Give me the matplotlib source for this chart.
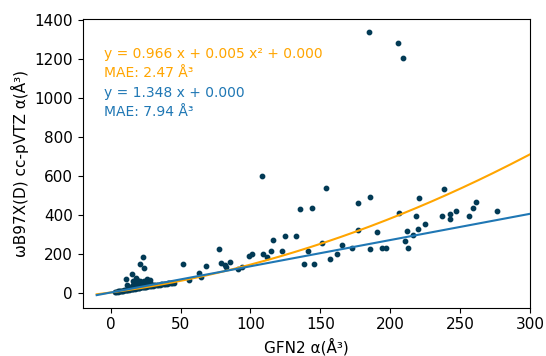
import numpy as np
import matplotlib.pyplot as plt

# GFN2 polarizabilities (x) and wB97X(D) reference (y)
gfn2 = [
    # dense cluster of small molecules
    3, 4, 5, 5.5, 6, 7, 7.5, 8, 9, 9.5, 10, 11, 11.5, 12, 13, 13.5, 14, 15,
    15.5, 16, 17, 17.5, 18, 18.5, 19, 20, 20.5, 21, 22, 22.5, 23, 24, 24.5,
    25, 26, 26.5, 27, 28, 29, 30, 31, 32, 33, 34, 35, 36, 37, 38, 39, 40,
    41, 42, 43, 44, 45,
    14, 16, 17, 18, 19, 20, 21, 22, 23, 24, 25, 26, 27, 28, 29,
    11.2, 15.4, 21, 23.4, 23.6, 18, 26, 12, 16,
    # larger systems
    51.5, 56, 63.2, 64.4, 68, 77.8, 79, 82.1, 82.3, 85.4, 91.1, 94.3,
    98.8, 101, 108.1, 109.3, 111.7, 114.8, 115.8, 122.4, 124.5, 132.9,
    135.8, 138.4, 141.3, 143.7, 145.8, 150.9, 154.2, 157.2, 161.6, 165.6,
    172.8, 177.1, 177.1, 184.5, 185.2, 185.7, 190.2, 194.2, 197.1, 205.3,
    206.4, 209.1, 210.7, 211.9, 212.6, 216.4, 218.1, 219.8, 220.5, 224.6,
    236.8, 238.2, 242.9, 242.9, 246.8, 256.3, 259.4, 261.1, 276.4,
]
wb97x = [
    3, 5, 5, 7, 6, 8, 9, 9, 10, 12, 11, 13, 14, 14, 15, 17, 16, 18,
    19, 19, 21, 20, 22, 23, 22, 24, 25, 26, 26, 28, 27, 29, 30,
    30, 31, 33, 32, 33, 35, 36, 37, 38, 39, 40, 41, 42, 43, 44, 45, 46,
    47, 48, 48, 49, 50,
    30, 40, 55, 45, 62, 50, 58, 44, 52, 60, 48, 66, 55, 62, 45,
    69, 97, 146, 185, 125, 75, 70, 40, 60,
    149, 63, 99, 80, 137, 225, 152, 142, 132, 156, 122, 130,
    188, 200, 600, 197, 182, 214, 270, 215, 289, 289,
    428, 149, 212, 434, 149, 255, 535, 173, 197, 242,
    228, 460, 322, 1340, 492, 226, 310, 228, 231, 1284,
    407, 1207, 265, 315, 231, 296, 395, 325, 487, 354,
    392, 530, 402, 376, 421, 393, 433, 467, 417,
]

# fit coefficients shown on the plot
quad_a, quad_b = 0.966, 0.00467
lin_a = 1.348

xfit = np.linspace(-10, 300, 200)

fig = plt.figure(figsize=(5.46, 3.56), dpi=100)
ax = fig.add_axes([0.1515, 0.1357, 0.8192, 0.8107])

ax.scatter(gfn2, wb97x, s=10, color='#023a55', zorder=3)
ax.plot(xfit, quad_a*xfit + quad_b*xfit**2, color='orange', lw=1.5, zorder=4)
ax.plot(xfit, lin_a*xfit, color='#1f77b4', lw=1.5, zorder=4)

ax.text(-5, 1224, 'y = 0.966 x + 0.005 x² + 0.000', color='orange', fontsize=10, va='center')
ax.text(-5, 1128, 'MAE: 2.47 Å³', color='orange', fontsize=10, va='center')
ax.text(-5, 1026, 'y = 1.348 x + 0.000', color='#1f77b4', fontsize=10, va='center')
ax.text(-5, 925, 'MAE: 7.94 Å³', color='#1f77b4', fontsize=10, va='center')

ax.set_xlim(-20, 300)
ax.set_ylim(-78, 1405)
ax.set_xticks([0, 50, 100, 150, 200, 250, 300])
ax.set_yticks([0, 200, 400, 600, 800, 1000, 1200, 1400])
ax.tick_params(labelsize=11)
ax.set_xlabel('GFN2 α(Å³)', fontsize=11)
ax.set_ylabel('ωB97X(D) cc-pVTZ α(Å³)', fontsize=11)

fig.savefig('out.png', dpi=100)
